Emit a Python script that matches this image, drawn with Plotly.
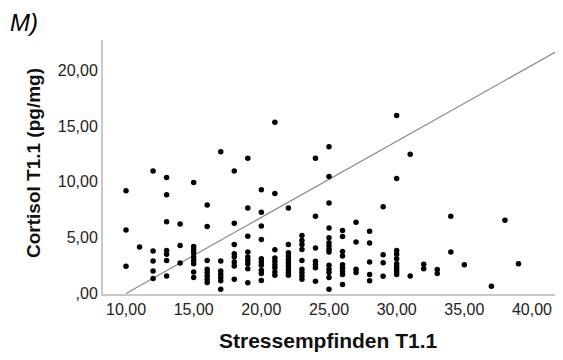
import plotly.graph_objects as go

# Stressempfinden T1.1 (x) and Cortisol T1.1 (y)
stress = (
    [10]*3 + [11]*1 + [12]*5 + [13]*7 + [14]*3 + [15]*9 + [16]*8 + [17]*7 + [18]*8 +
    [19]*9 + [20]*10 + [21]*9 + [22]*10 + [23]*9 + [24]*7 + [25]*14 + [26]*9 + [27]*4 +
    [28]*5 + [29]*4 + [30]*10 + [31]*2 + [32]*2 + [33]*2 + [34]*2 + [35]*1 + [37]*1 +
    [38]*1 + [39]*1
)
cortisol = [
    9.19, 5.69, 2.43,                                            # 10
    4.15,                                                        # 11
    10.97, 3.80, 2.91, 2.02, 1.33,                               # 12
    10.38, 8.83, 6.43, 3.85, 3.50, 2.96, 1.57,                   # 13
    6.23, 4.30, 2.73,                                            # 14
    9.94, 4.21, 3.91, 3.62, 3.26, 2.96, 2.67, 1.93, 1.42,        # 15
    7.92, 5.99, 2.96, 2.16, 1.87, 1.57, 1.27, 0.98,              # 16
    12.70, 2.91, 2.02, 1.72, 1.42, 1.13, 0.38,                   # 17
    10.97, 6.29, 4.39, 3.56, 3.26, 2.82, 2.46, 1.27,             # 18
    12.10, 7.65, 5.13, 3.71, 3.26, 2.96, 2.67, 2.22, 0.95,       # 19
    9.28, 7.27, 6.05, 4.83, 3.11, 2.82, 2.52, 2.07, 1.78, 1.16,  # 20
    15.33, 8.96, 3.91, 3.17, 2.88, 2.58, 2.29, 1.93, 1.63,       # 21
    7.65, 4.39, 3.65, 3.35, 3.05, 2.76, 2.46, 2.16, 1.87, 1.63,  # 22
    5.19, 4.74, 4.39, 3.94, 2.96, 2.16, 1.87, 1.57, 1.27,        # 23
    12.10, 6.91, 4.06, 2.88, 2.58, 2.29, 1.10,                   # 24
    13.14, 10.47, 8.10, 5.87, 4.98, 4.54, 4.24, 3.94, 3.71, 2.52, 2.16, 1.87, 1.42, 0.38,  # 25
    5.63, 5.10, 3.76, 3.35, 2.58, 2.29, 1.98, 1.69, 0.80,        # 26
    6.38, 4.60, 2.16, 1.87,                                      # 27
    5.58, 4.51, 2.82, 1.69, 1.13,                                # 28
    7.77, 3.47, 2.76, 1.54,                                      # 29
    15.93, 10.29, 3.85, 3.50, 3.11, 2.67, 2.38, 2.16, 1.93, 1.69,  # 30
    12.46, 1.57,                                                 # 31
    2.61, 2.22,                                                  # 32
    2.14, 1.78,                                                  # 33
    6.91, 3.71,                                                  # 34
    2.58,                                                        # 35
    0.65,                                                        # 37
    6.55,                                                        # 38
    2.67,                                                        # 39
]

# reference line end points
line_x = [10.0, 41.7]
line_y = [0.0, 21.6]

x_ticks = [10, 15, 20, 25, 30, 35, 40]
x_labels = ["10,00", "15,00", "20,00", "25,00", "30,00", "35,00", "40,00"]
y_ticks = [0, 5, 10, 15, 20]
y_labels = [",00", "5,00", "10,00", "15,00", "20,00"]

FONT = "Liberation Sans, Arial, sans-serif"

fig = go.Figure()
fig.add_trace(go.Scatter(x=line_x, y=line_y, mode="lines",
                         line=dict(color="#8a8a8a", width=1.2),
                         hoverinfo="skip", showlegend=False))
fig.add_trace(go.Scatter(x=stress, y=cortisol, mode="markers",
                         marker=dict(color="black", size=5.5, line=dict(width=0)),
                         showlegend=False))

fig.update_layout(
    width=563, height=360,
    margin=dict(l=103, r=8, t=40, b=66),
    plot_bgcolor="white", paper_bgcolor="white",
    font=dict(family=FONT, color="#222222"),
    xaxis=dict(range=[8.3, 41.7], tickvals=x_ticks, ticktext=x_labels,
               showgrid=False, zeroline=False, showline=True,
               linecolor="#c8c8c8", linewidth=2, ticks="",
               tickfont=dict(size=16, family=FONT, color="#222222"),
               ticklabelstandoff=0),
    yaxis=dict(range=[-0.05, 22.7], tickvals=y_ticks, ticktext=y_labels,
               showgrid=False, zeroline=False, showline=True,
               linecolor="#c8c8c8", linewidth=2, ticks="",
               tickfont=dict(size=16, family=FONT, color="#222222"),
               ticklabelstandoff=0),
    annotations=[
        dict(text="M)", xref="paper", yref="paper", x=(8 - 103) / 452, y=(294 - 23) / 254,
             xanchor="left", yanchor="middle", showarrow=False,
             font=dict(size=24, family=FONT, color="black", style="italic")),
        dict(text="<b>Stressempfinden T1.1</b>", xref="paper", yref="paper",
             x=(328 - 103) / 452, y=(294 - 340) / 254, xanchor="center", yanchor="middle",
             showarrow=False, font=dict(size=21, family=FONT, color="#111111")),
        dict(text="<b>Cortisol T1.1 (pg/mg)</b>", xref="paper", yref="paper",
             x=(33 - 103) / 452, y=(294 - 163) / 254, xanchor="center", yanchor="middle",
             textangle=-90, showarrow=False, font=dict(size=19, family=FONT, color="#111111")),
    ],
)

fig.write_html("out.html")
